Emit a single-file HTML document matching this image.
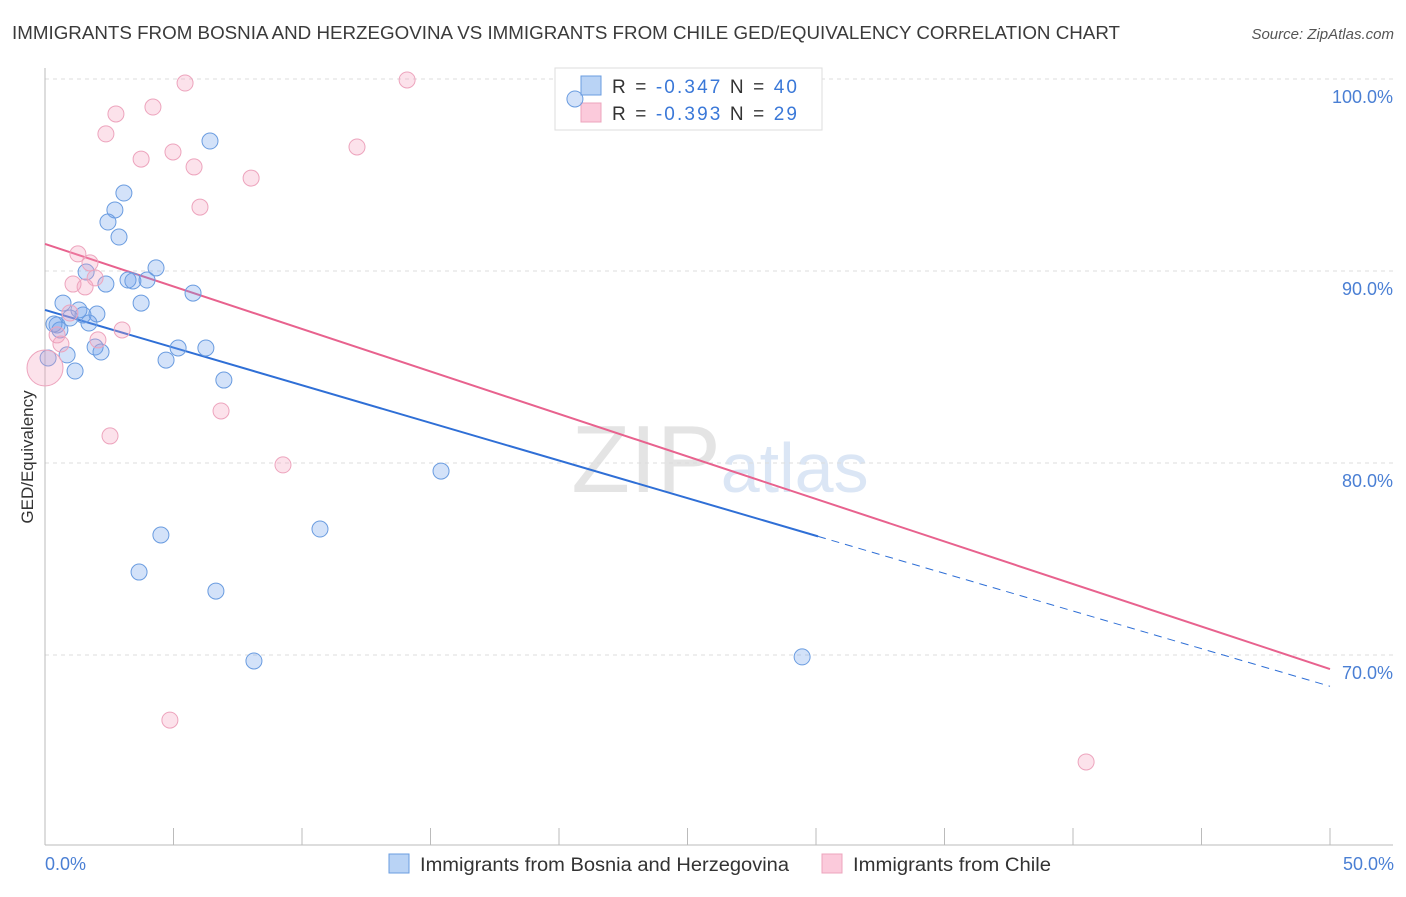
<!DOCTYPE html>
<html><head><meta charset="utf-8"><style>
body{margin:0;background:#fff;font-family:"Liberation Sans",sans-serif;}
svg text{font-family:"Liberation Sans",sans-serif;}
</style></head><body>
<svg id="chart" width="1406" height="892" viewBox="0 0 1406 892" xmlns="http://www.w3.org/2000/svg" xml:space="preserve">
<text x="12" y="39" font-size="18" fill="#3a3a3a" textLength="1108" lengthAdjust="spacingAndGlyphs">IMMIGRANTS FROM BOSNIA AND HERZEGOVINA VS IMMIGRANTS FROM CHILE GED/EQUIVALENCY CORRELATION CHART</text>
<text x="1394" y="39" font-size="15" fill="#555" text-anchor="end" font-style="italic">Source: ZipAtlas.com</text>
<text x="720" y="492" font-size="96" fill="#e4e4e4" text-anchor="middle" font-family="Liberation Serif">ZIP<tspan fill="#dbe6f5" font-family="Liberation Sans" font-size="70">atlas</tspan></text>
<g id="grid"></g>
<g id="axes"></g>
<g>
<rect x="555" y="68" width="267" height="62" fill="#fff" stroke="#ddd"/>
<rect x="581" y="76" width="20" height="19" fill="#b9d3f5" stroke="#6a9ce0"/>
<rect x="581" y="103" width="20" height="19" fill="#fbcadb" stroke="#eda4bd"/>
<text x="612" y="93" font-size="19" fill="#333" textLength="185" lengthAdjust="spacing">R = <tspan fill="#3a78d8">-0.347</tspan>    N = <tspan fill="#3a78d8">40</tspan></text>
<text x="612" y="120" font-size="19" fill="#333" textLength="185" lengthAdjust="spacing">R = <tspan fill="#3a78d8">-0.393</tspan>    N =  <tspan fill="#3a78d8">29</tspan></text>
</g>
<g id="lines"></g>
<g id="points"></g>
<text transform="translate(33,457) rotate(-90)" font-size="17" fill="#333" text-anchor="middle">GED/Equivalency</text>
<text x="45" y="870" font-size="18" fill="#4a7fd4">0.0%</text>
<text x="1394" y="870" font-size="18" fill="#4a7fd4" text-anchor="end">50.0%</text>
<g>
<rect x="389" y="854" width="20" height="19" fill="#b9d3f5" stroke="#6a9ce0"/>
<text x="420" y="871" font-size="19" fill="#333" textLength="369" lengthAdjust="spacingAndGlyphs">Immigrants from Bosnia and Herzegovina</text>
<rect x="822" y="854" width="20" height="19" fill="#fbcadb" stroke="#eda4bd"/>
<text x="853" y="871" font-size="19" fill="#333" textLength="198" lengthAdjust="spacingAndGlyphs">Immigrants from Chile</text>
</g>
</svg>
<script>
const yTicks=[100,90,80,70];
const yTickLabels=["100.0%","90.0%","80.0%","70.0%"];
const xTicks=[0,5,10,15,20,25,30,35,40,45,50];
const blueX=[20.62,6.42,3.07,2.72,2.45,2.88,4.32,1.60,3.23,3.42,3.97,2.37,5.76,0.70,3.74,1.32,2.02,0.97,1.48,1.71,0.47,0.58,0.35,1.95,2.18,5.18,6.26,0.86,4.71,1.17,6.96,15.41,10.70,4.51,3.66,6.65,8.13,29.46,0.12];
const blueY=[98.96,96.77,94.06,93.18,92.55,91.77,90.16,89.95,89.53,89.48,89.53,89.32,88.85,88.33,88.33,87.97,87.76,87.55,87.71,87.29,87.19,86.93,87.24,86.04,85.78,85.99,85.99,85.63,85.36,84.79,84.32,79.58,76.56,76.25,74.32,73.33,69.69,69.90,85.47];
const pinkX=[14.09,5.45,4.20,2.76,2.37,3.74,4.98,5.80,12.14,8.02,6.03,1.28,1.75,1.09,1.56,1.95,0.97,3.00,2.06,0.62,6.85,2.53,9.26,4.86,40.51,0.0,0.47];
const pinkY=[99.95,99.79,98.54,98.18,97.14,95.83,96.20,95.42,96.46,94.84,93.33,90.89,90.42,89.32,89.17,89.64,87.81,86.93,86.41,86.20,82.71,81.41,79.90,66.61,64.43,84.95,86.67];
const blueTrend=[87.97,68.37];
const pinkTrend=[91.41,69.27];
const blueSolidEnd=30.08;
const NS="http://www.w3.org/2000/svg";
const sx=v=>45+v*25.7;
const sy=v=>79+(100-v)*19.2;
function mk(tag,attrs,parent){const e=document.createElementNS(NS,tag);for(const k in attrs)e.setAttribute(k,attrs[k]);document.getElementById(parent).appendChild(e);return e;}
yTicks.forEach((t,i)=>{
 const l=mk('line',{x1:45,x2:1393,y1:sy(t),y2:sy(t),stroke:'#ddd','stroke-dasharray':'4,4'},'grid');
 
 
 const tx=mk('text',{x:1393,y:sy(t)+24,'font-size':18,fill:'#4a7fd4','text-anchor':'end'},'grid');
 tx.textContent=yTickLabels[i];
 
 
});
let a=mk('line',{x1:45,x2:45,y1:68,y2:845,stroke:'#bbb'},'axes');


a=mk('line',{x1:45,x2:1393,y1:845,y2:845,stroke:'#bbb'},'axes');


xTicks.forEach(t=>{const l=mk('line',{x1:sx(t),x2:sx(t),y1:828,y2:845,stroke:'#bbb'},'axes');
 
 });
function trend(tr,color,solidEnd,name){
 const f=x=>tr[0]+(tr[1]-tr[0])*x/50;
 const l=mk('line',{x1:sx(0),y1:sy(f(0)),x2:sx(solidEnd),y2:sy(f(solidEnd)),stroke:color,'stroke-width':2},'lines');
 
 
 if(solidEnd<50){const d=mk('line',{x1:sx(solidEnd),y1:sy(f(solidEnd)),x2:sx(50),y2:sy(f(50)),stroke:color,'stroke-width':1,'stroke-dasharray':'8,6'},'lines');
 
 }
}
trend(blueTrend,'#2f6fd6',blueSolidEnd,'blue-trend-line');
trend(pinkTrend,'#e8628e',50,'pink-trend-line');
blueX.forEach((x,i)=>{const c=mk('circle',{cx:sx(x),cy:sy(blueY[i]),r:8,fill:'rgba(110,160,235,0.3)',stroke:'#6a9ce0','stroke-width':1},'points');
 
 });
pinkX.forEach((x,i)=>{const c=mk('circle',{cx:sx(x),cy:sy(pinkY[i]),r:(i===25?18:8),fill:'rgba(245,160,190,0.3)',stroke:'#eda4bd','stroke-width':1},'points');
 
 });
</script>
</body></html>
